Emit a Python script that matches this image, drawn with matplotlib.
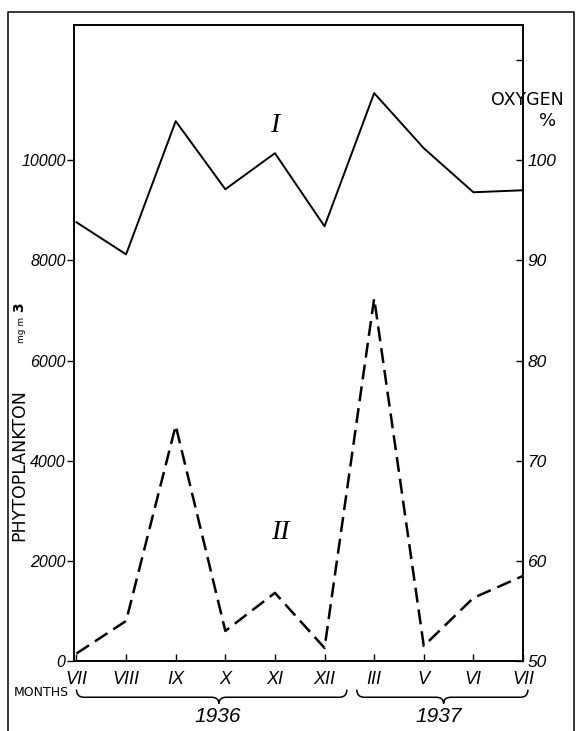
from matplotlib import pyplot as plt
from matplotlib.path import Path
from matplotlib.patches import PathPatch
from matplotlib.lines import Line2D
from matplotlib import transforms
import numpy as np

plt.rcParams['font.family'] = ['DejaVu Sans']

#months of sampling, July 1936 to July 1937
months = ['VII', 'VIII', 'IX', 'X', 'XI', 'XII', 'III', 'V', 'VI', 'VII']
#curve I: oxygen saturation, % (right axis)
oxygen = [93.8, 90.6, 103.9, 97.1, 100.7, 93.4, 106.7, 101.2, 96.8, 97.0]
#curve II: phytoplankton, mg/m3 (left axis)
phyto = [150, 800, 4700, 600, 1360, 260, 7240, 300, 1260, 1700]

left_ticks = [0, 2000, 4000, 6000, 8000, 10000]
right_ticks = [50, 60, 70, 80, 90, 100, 110]
right_labels = ['50', '60', '70', '80', '90', '100', '']

W, H = 578, 731
fig = plt.figure(figsize=(W / 100, H / 100), dpi=100)
ax = fig.add_axes([74 / W, 1 - 661 / H, (523 - 74) / W, (661 - 25) / H])
ax2 = ax.twinx()

x = np.arange(len(months))
#condensed-looking italic for the numbers
narrow = dict(family=['Liberation Sans', 'DejaVu Sans'], style='italic')

ax.plot(x, phyto, color='black', lw=1.8, dashes=(6, 2.8), solid_capstyle='butt')
ax2.plot(x, oxygen, color='black', lw=1.4)

ax.set_xlim(-0.05, 9.0)
ax.set_ylim(0, 12700)
ax2.set_ylim(50, 113.5)

ax.set_yticks(left_ticks)
ax.set_yticklabels([str(t) for t in left_ticks], fontsize=11.5, **narrow)
ax2.set_yticks(right_ticks)
ax2.set_yticklabels(right_labels, fontsize=12.5, **narrow)
ax.set_xticks(x)
ax.set_xticklabels(months, fontsize=13, **narrow)

ax.tick_params(axis='y', direction='out', length=5, width=1, pad=1)
ax.tick_params(axis='x', direction='in', length=5, width=1, pad=7)
ax2.tick_params(axis='y', direction='in', length=5, width=1, pad=3)
for a in (ax, ax2):
    for s in a.spines.values():
        s.set_linewidth(1.2)

#curve labels
ax2.text(4, 103.5, 'I', fontsize=20, family='Liberation Serif', style='italic',
         ha='center', va='center')
ax.text(4.1, 2560, 'II', fontsize=20, family='Liberation Serif', style='italic',
        ha='center', va='center')

#axis titles
fig.text(19 / W, 1 - 465 / H, 'PHYTOPLANKTON', rotation=90, fontsize=12.5,
         ha='center', va='center')
fig.text(21 / W, 1 - 330 / H, 'mg m', rotation=90, fontsize=6.5,
         ha='center', va='center')
fig.text(19 / W, 1 - 307 / H, '3', rotation=90, fontsize=10, fontweight='bold',
         ha='center', va='center')
fig.text(527 / W, 1 - 100 / H, 'OXYGEN', fontsize=12.5, ha='center', va='center')
fig.text(548 / W, 1 - 121 / H, '%', fontsize=13, ha='center', va='center')
fig.text(41 / W, 1 - 692 / H, 'MONTHS', fontsize=9, ha='center', va='center')

#year braces under the month axis
tr = transforms.blended_transform_factory(ax.transData, ax.transAxes)


def brace(x0, x1, xm):
    yt, yl, yb = -0.045, -0.057, -0.067
    d = 0.15
    verts = [(x0, yt), (x0, yl), (x0 + d, yl),
             (xm - d, yl), (xm, yl), (xm, yb),
             (xm, yl), (xm + d, yl),
             (x1 - d, yl), (x1, yl), (x1, yt)]
    codes = [Path.MOVETO, Path.CURVE3, Path.CURVE3,
             Path.LINETO, Path.CURVE3, Path.CURVE3,
             Path.CURVE3, Path.CURVE3,
             Path.LINETO, Path.CURVE3, Path.CURVE3]
    ax.add_patch(PathPatch(Path(verts, codes), fill=False, lw=1.1,
                           transform=tr, clip_on=False))


brace(0.0, 5.45, 2.87)
brace(5.65, 9.1, 7.4)
ax.text(2.85, -0.088, '1936', transform=tr, fontsize=15, ha='center',
        va='center', **narrow)
ax.text(7.3, -0.088, '1937', transform=tr, fontsize=15, ha='center',
        va='center', **narrow)

#outer frame of the figure
fig.add_artist(Line2D([8 / W, 8 / W, 574 / W, 574 / W],
                      [0, 1 - 12 / H, 1 - 12 / H, 0],
                      transform=fig.transFigure, color='black', lw=1.1))

fig.savefig('out.png', dpi=100)
